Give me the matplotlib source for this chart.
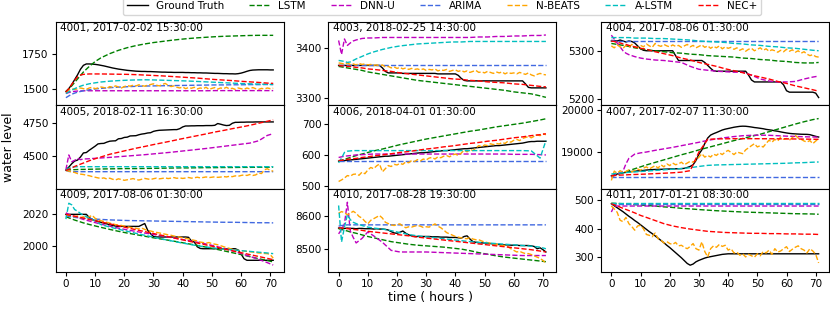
import matplotlib
matplotlib.use("Agg")
import matplotlib.pyplot as plt

# time axes (hours ahead)
HOURS = list(range(72))
COARSE = [0, 1, 2, 3, 4, 5, 6, 8, 10, 12, 15, 18, 21, 24, 27, 30, 33, 36, 39, 42,
          45, 48, 51, 54, 57, 60, 63, 66, 69, 71]

MODELS = ["Ground Truth", "LSTM", "DNN-U", "ARIMA", "N-BEATS", "A-LSTM", "NEC+"]
COLORS = ["black", "green", "m", "royalblue", "orange", "c", "r"]

# ---------------------------------------------------------------- 4001
S4001_GT = [1480, 1500, 1530, 1565, 1600, 1640, 1668, 1678, 1678, 1677, 1675,
            1672, 1668, 1664, 1659, 1654, 1649, 1645, 1641, 1638, 1635,
            1632, 1630, 1628, 1626, 1625, 1624, 1624, 1623, 1623, 1622,
            1621, 1620, 1619, 1619, 1618, 1618, 1617, 1617, 1617, 1617,
            1616, 1616, 1615, 1615, 1614, 1614, 1613, 1613, 1612, 1611,
            1610, 1610, 1609, 1608, 1608, 1607, 1607, 1606, 1608, 1612,
            1618, 1625, 1631, 1634, 1635, 1636, 1636, 1636, 1636, 1635, 1635]
S4001_LSTM = [1475, 1498, 1520, 1545, 1570, 1595, 1620, 1660, 1695, 1722, 1752, 1776,
              1795, 1810, 1822, 1832, 1840, 1848, 1855, 1861, 1866, 1870, 1874, 1877,
              1879, 1881, 1883, 1884, 1884, 1884]
S4001_DNNU = [1465, 1472, 1478, 1481, 1483, 1484, 1485, 1485, 1485, 1485, 1485, 1485,
              1485, 1485, 1485, 1485, 1485, 1485, 1485, 1485, 1485, 1485, 1486, 1486,
              1486, 1486, 1486, 1486, 1486, 1486]
S4001_ARIMA = [1435, 1448, 1460, 1468, 1475, 1480, 1485, 1492, 1498, 1502, 1507, 1511,
               1514, 1517, 1519, 1520, 1521, 1522, 1523, 1524, 1525, 1526, 1527, 1527,
               1528, 1528, 1529, 1529, 1530, 1530]
S4001_NBEATS = [1475, 1490, 1500, 1495, 1498, 1505, 1500, 1495, 1505, 1510, 1500,
                1505, 1512, 1508, 1503, 1515, 1510, 1520, 1512, 1505, 1515,
                1522, 1518, 1525, 1520, 1528, 1522, 1518, 1525, 1530, 1535,
                1525, 1520, 1530, 1538, 1525, 1515, 1520, 1510, 1505, 1512,
                1500, 1508, 1503, 1510, 1498, 1505, 1500, 1510, 1495, 1502,
                1508, 1497, 1505, 1500, 1510, 1498, 1503, 1495, 1505, 1500,
                1495, 1505, 1498, 1508, 1500, 1495, 1502, 1498, 1505, 1500, 1503]
S4001_ALSTM = [1465, 1478, 1490, 1500, 1510, 1518, 1525, 1535, 1542, 1548, 1554, 1558,
               1561, 1563, 1564, 1563, 1561, 1559, 1557, 1555, 1552, 1549, 1546, 1543,
               1540, 1537, 1535, 1533, 1531, 1530]
S4001_NEC = [1475, 1500, 1530, 1560, 1585, 1598, 1603, 1606, 1606, 1606, 1605, 1604,
             1603, 1601, 1598, 1595, 1592, 1588, 1584, 1580, 1576, 1571, 1566, 1562,
             1558, 1553, 1549, 1545, 1540, 1538]

# ---------------------------------------------------------------- 4003
S4003_GT = ([3365] * 15 + [3360, 3353, 3350]
            + [3350, 3350, 3350, 3350, 3349, 3349, 3349, 3349, 3349, 3349, 3349, 3349,
               3349, 3349, 3349, 3349, 3348, 3348, 3348, 3348, 3348, 3348, 3348]
            + [3345, 3339, 3335] + [3334] * 20 + [3328, 3321] + [3320] * 6)
S4003_LSTM = [3363, 3362, 3361, 3360, 3359, 3358, 3357, 3355, 3352, 3350, 3347, 3344,
              3341, 3338, 3335, 3333, 3331, 3329, 3327, 3325, 3323, 3321, 3319, 3317,
              3315, 3312, 3310, 3308, 3304, 3301]
S4003_DNNU = [3415, 3387, 3418, 3405, 3410, 3414, 3416, 3419, 3420, 3420, 3421, 3421,
              3421, 3421, 3421, 3421, 3421, 3421, 3421, 3421, 3421, 3422, 3422, 3423,
              3423, 3424, 3424, 3425, 3425, 3426]
S4003_ARIMA = [3366] * 30
S4003_NBEATS = [3370, 3369, 3368, 3370, 3367, 3368, 3366, 3369, 3367, 3368, 3366,
                3367, 3365, 3366, 3364, 3366, 3362, 3363, 3360, 3362, 3359,
                3361, 3358, 3360, 3357, 3359, 3357, 3358, 3356, 3358, 3355,
                3357, 3356, 3358, 3354, 3356, 3355, 3357, 3353, 3355, 3356,
                3353, 3355, 3352, 3354, 3351, 3353, 3355, 3351, 3352, 3350,
                3353, 3351, 3349, 3352, 3350, 3352, 3348, 3351, 3349, 3350,
                3348, 3351, 3349, 3347, 3350, 3346, 3344, 3347, 3349, 3347, 3346]
S4003_ALSTM = [3375, 3374, 3373, 3371, 3372, 3375, 3378, 3383, 3388, 3392, 3397, 3401,
               3404, 3406, 3408, 3409, 3410, 3411, 3412, 3412, 3413, 3413, 3413, 3413,
               3413, 3413, 3413, 3413, 3413, 3413]
S4003_NEC = [3365, 3364, 3364, 3363, 3363, 3362, 3361, 3360, 3358, 3357, 3355, 3353,
             3350, 3348, 3346, 3344, 3342, 3340, 3338, 3337, 3335, 3334, 3332, 3331,
             3330, 3328, 3327, 3325, 3323, 3322]

# ---------------------------------------------------------------- 4004
S4004_GT = [5320, 5321, 5320, 5322, 5320, 5318, 5320, 5319, 5316, 5310, 5304,
            5301, 5300, 5300, 5300, 5300, 5300, 5300, 5300, 5300, 5300,
            5300, 5290, 5280, 5280, 5280, 5280, 5280, 5280, 5280, 5280,
            5280, 5276, 5270, 5264, 5259, 5258, 5258, 5258, 5258, 5258,
            5258, 5258, 5258, 5258, 5258, 5258, 5250, 5240, 5236, 5236,
            5236, 5236, 5236, 5236, 5236, 5236, 5236, 5236, 5230, 5218,
            5215, 5215, 5215, 5215, 5215, 5215, 5215, 5215, 5215, 5213, 5204]
S4004_LSTM = [5315, 5314, 5313, 5312, 5311, 5310, 5309, 5306, 5304, 5302, 5300, 5298,
              5296, 5295, 5293, 5292, 5290, 5289, 5288, 5287, 5285, 5284, 5282, 5281,
              5279, 5278, 5276, 5275, 5275, 5276]
S4004_DNNU = [5332, 5324, 5316, 5308, 5300, 5295, 5292, 5288, 5285, 5283, 5281, 5280,
              5278, 5276, 5268, 5262, 5260, 5258, 5257, 5256, 5256, 5250, 5242, 5238,
              5236, 5236, 5237, 5242, 5246, 5248]
S4004_ARIMA = [5322, 5320] + [5319] * 28
S4004_NBEATS = [5310, 5306, 5312, 5308, 5305, 5311, 5307, 5313, 5309, 5306, 5311,
                5308, 5314, 5310, 5307, 5315, 5311, 5309, 5313, 5310, 5308,
                5312, 5309, 5311, 5307, 5310, 5313, 5308, 5311, 5306, 5309,
                5312, 5307, 5310, 5305, 5309, 5306, 5310, 5304, 5308, 5305,
                5307, 5303, 5306, 5301, 5304, 5299, 5303, 5305, 5300, 5303,
                5306, 5301, 5304, 5299, 5302, 5300, 5297, 5301, 5298, 5303,
                5299, 5302, 5297, 5300, 5295, 5298, 5293, 5290, 5292, 5288, 5287]
S4004_ALSTM = [5327, 5327, 5327, 5327, 5327, 5327, 5327, 5326, 5326, 5326, 5325, 5325,
               5324, 5323, 5322, 5320, 5319, 5318, 5317, 5315, 5314, 5312, 5311, 5309,
               5308, 5306, 5305, 5303, 5301, 5300]
S4004_NEC = [5320, 5319, 5317, 5316, 5314, 5313, 5311, 5308, 5305, 5303, 5298, 5294,
             5290, 5285, 5281, 5276, 5272, 5268, 5263, 5259, 5255, 5250, 5246, 5242,
             5237, 5233, 5228, 5224, 5220, 5217]

# ---------------------------------------------------------------- 4005
S4005_GT = [4398, 4420, 4445, 4465, 4472, 4495, 4525, 4528, 4545, 4560, 4575,
            4592, 4595, 4596, 4605, 4612, 4614, 4615, 4630, 4632, 4640,
            4642, 4651, 4652, 4653, 4660, 4665, 4668, 4673, 4675, 4685,
            4690, 4693, 4694, 4695, 4696, 4697, 4698, 4698, 4705, 4718,
            4725, 4725, 4726, 4726, 4727, 4727, 4727, 4728, 4728, 4728,
            4730, 4743, 4738, 4732, 4728, 4730, 4745, 4752, 4752, 4753,
            4753, 4754, 4754, 4754, 4755, 4755, 4755, 4755, 4755, 4755, 4755]
S4005_LSTM = [4398, 4399, 4400, 4401, 4402, 4403, 4403, 4404, 4405, 4406, 4407, 4408,
              4409, 4409, 4410, 4411, 4412, 4413, 4414, 4414, 4415, 4416, 4416, 4417,
              4417, 4418, 4418, 4419, 4419, 4420]
S4005_DNNU = [4400, 4510, 4460, 4470, 4485, 4475, 4480, 4482, 4485, 4488, 4492, 4497,
              4502, 4507, 4512, 4518, 4524, 4530, 4537, 4544, 4551, 4558, 4566, 4574,
              4582, 4590, 4598, 4615, 4655, 4668]
S4005_ARIMA = [4395, 4388] + [4386] * 28
S4005_NBEATS = [4395, 4390, 4385, 4380, 4372, 4368, 4365, 4360, 4356, 4350, 4345,
                4340, 4336, 4340, 4332, 4338, 4330, 4325, 4333, 4328, 4322,
                4326, 4330, 4335, 4328, 4324, 4330, 4336, 4332, 4328, 4334,
                4338, 4333, 4336, 4340, 4335, 4338, 4342, 4337, 4340, 4336,
                4339, 4343, 4338, 4341, 4345, 4340, 4343, 4347, 4342, 4345,
                4348, 4344, 4346, 4350, 4347, 4352, 4349, 4355, 4352, 4358,
                4362, 4358, 4365, 4358, 4362, 4376, 4372, 4400, 4408, 4395, 4390]
S4005_ALSTM = [4400, 4412, 4420, 4422] + [4423] * 26
S4005_NEC = [4395, 4404, 4413, 4425, 4433, 4442, 4450, 4467, 4482, 4495, 4515, 4530,
             4545, 4560, 4573, 4587, 4600, 4613, 4627, 4640, 4653, 4666, 4680, 4692,
             4705, 4717, 4730, 4745, 4760, 4770]

# ---------------------------------------------------------------- 4006
S4006_GT = [580, 581, 582, 583, 584, 585, 586, 587, 588, 589, 590,
            591, 592, 593, 594, 595, 596, 596, 597, 598, 599,
            600, 601, 602, 603, 604, 605, 606, 607, 607, 608,
            609, 610, 611, 612, 613, 614, 614, 615, 616, 617,
            618, 619, 620, 620, 621, 622, 623, 624, 625, 626,
            627, 628, 629, 630, 630, 631, 632, 633, 634, 635,
            636, 637, 638, 640, 642, 643, 643, 644, 644, 644, 644]
S4006_LSTM = [580, 583, 586, 589, 592, 595, 598, 603, 608, 613, 619, 626, 633, 639, 645,
              651, 656, 661, 666, 671, 676, 680, 685, 690, 694, 698, 702, 707, 712, 716]
S4006_DNNU = [592, 594, 596, 597, 598, 599, 600, 601, 602, 603, 603, 603, 603, 603, 603,
              603, 603, 603, 603, 603, 603, 603, 603, 603, 603, 602, 602, 602, 601, 600]
S4006_ARIMA = [580] * 30
S4006_NBEATS = [515, 520, 526, 534, 532, 538, 539, 535, 545, 540, 552,
                560, 556, 565, 571, 546, 556, 566, 563, 570, 568,
                573, 570, 578, 575, 582, 579, 585, 581, 587, 584,
                590, 592, 587, 594, 591, 596, 598, 594, 600, 603,
                598, 606, 616, 610, 618, 614, 622, 630, 626, 632,
                630, 636, 633, 637, 635, 640, 637, 644, 641, 647,
                650, 646, 653, 656, 659, 655, 660, 664, 662, 668, 665]
S4006_ALSTM = [575, 590, 608, 612, 613, 614, 614, 614, 614, 614, 614, 614, 614, 614, 614,
               614, 614, 614, 614, 614, 614, 614, 614, 614, 614, 614, 614, 613, 590, 646]
S4006_NEC = [582, 583, 584, 586, 587, 588, 589, 592, 594, 597, 600, 604, 608, 611, 615,
             619, 622, 626, 629, 633, 637, 640, 644, 647, 651, 655, 658, 662, 665, 668]

# ---------------------------------------------------------------- 4007
S4007_GT = [18440, 18460, 18480, 18500, 18510, 18520, 18530, 18540, 18545, 18555, 18560,
            18565, 18575, 18580, 18585, 18588, 18590, 18592, 18595, 18597, 18600,
            18602, 18604, 18606, 18608, 18615, 18635, 18660, 18700, 18800, 18950,
            19050, 19200, 19330, 19400, 19433, 19460, 19490, 19520, 19540, 19555,
            19570, 19585, 19596, 19606, 19610, 19608, 19600, 19590, 19578, 19570,
            19560, 19550, 19535, 19525, 19515, 19500, 19490, 19475, 19462, 19450,
            19440, 19433, 19428, 19424, 19420, 19418, 19417, 19410, 19390, 19370, 19354]
S4007_LSTM = [18420, 18444, 18468, 18491, 18514, 18537, 18560, 18605, 18650, 18695,
              18755, 18815, 18875, 18935, 18990, 19050, 19105, 19160, 19215, 19270,
              19320, 19370, 19420, 19480, 19540, 19600, 19660, 19715, 19765, 19790]
S4007_DNNU = [18420, 18450, 18480, 18510, 18550, 18720, 18850, 18950, 18980, 19000,
              19040, 19075, 19110, 19150, 19190, 19230, 19275, 19310, 19340, 19365,
              19385, 19395, 19398, 19395, 19385, 19375, 19368, 19360, 19355, 19352]
S4007_ARIMA = [18400] * 30
S4007_NBEATS = [18330, 18550, 18500, 18560, 18520, 18540, 18580, 18530, 18560, 18600, 18570,
                18620, 18650, 18600, 18640, 18680, 18620, 18700, 18650, 18720, 18680,
                18740, 18700, 18720, 18760, 18700, 18740, 18780, 18760, 18810, 18880,
                18960, 18880, 18920, 18882, 18950, 18920, 18980, 18940, 19000, 19039,
                18990, 18940, 19000, 18980, 18961, 19050, 19100, 19150, 19197, 19120,
                19150, 19118, 19200, 19280, 19230, 19300, 19260, 19354, 19300, 19320,
                19280, 19340, 19394, 19330, 19300, 19260, 19236, 19270, 19197, 19260, 19315]
S4007_ALSTM = [18480, 18490, 18500, 18505, 18510, 18515, 18520, 18530, 18540, 18550,
               18565, 18580, 18595, 18610, 18630, 18660, 18685, 18695, 18700, 18705,
               18710, 18715, 18720, 18725, 18730, 18735, 18745, 18750, 18760, 18765]
S4007_NEC = [18440, 18445, 18450, 18455, 18458, 18460, 18465, 18470, 18475, 18480,
             18490, 18500, 18510, 18525, 18560, 19000, 19300, 19310, 19312, 19315,
             19315, 19315, 19314, 19313, 19312, 19310, 19308, 19305, 19302, 19300]

# ---------------------------------------------------------------- 4009
S4009_GT = ([2020] * 8
            + [2018, 2016.8, 2016, 2015.5, 2015, 2014.5, 2014, 2013.5, 2013, 2012.6, 2012.4]
            + [2012.4] * 7
            + [2013.3, 2014.2, 2010, 2007.8, 2006, 2005.7]
            + [2005.7] * 10
            + [2005.5, 2003.2, 2002.5, 1999.5, 1998.5]
            + [1998.3] * 12
            + [1997.5, 1995, 1992, 1991]
            + [1991] * 9)
S4009_LSTM = [2018.5, 2017.8, 2017.1, 2016.4, 2015.8, 2015.2, 2014.6, 2013.6, 2012.7,
              2011.8, 2010.5, 2009.3, 2008.2, 2007.2, 2006.2, 2005.2, 2004.3, 2003.4,
              2002.4, 2001.4, 2000.4, 1999.3, 1998.2, 1997, 1995.8, 1994.6, 1993.3,
              1992, 1990.8, 1990]
S4009_DNNU = [2021, 2020, 2019.3, 2018.6, 2018, 2017.4, 2016.8, 2015.8, 2014.8, 2013.8,
              2012.5, 2011.3, 2010.2, 2009.2, 2008.2, 2007.3, 2006.4, 2005.4, 2004.4,
              2003.4, 2002.4, 2001.3, 2000, 1998.6, 1997, 1995.3, 1993.5, 1991.6,
              1989.5, 1988]
S4009_ARIMA = [2019, 2018.7, 2018.4, 2018.1, 2017.9, 2017.7, 2017.5, 2017.2, 2017,
               2016.8, 2016.5, 2016.3, 2016.1, 2016, 2015.9, 2015.8, 2015.7, 2015.6,
               2015.5, 2015.4, 2015.3, 2015.2, 2015.1, 2015, 2015, 2014.9, 2014.8,
               2014.7, 2014.7, 2014.6]
S4009_NBEATS = [2019, 2019.5, 2019, 2018.5, 2019, 2018, 2018.5, 2017.5, 2018.5, 2019.4, 2017.5,
                2016.5, 2016, 2015.5, 2015, 2014.5, 2014, 2013.5, 2013.2, 2013, 2012.6,
                2012.2, 2011.8, 2011.5, 2011.2, 2010.8, 2011.3, 2010.5, 2009.8, 2009.5, 2009,
                2008.6, 2008.3, 2007.8, 2007.5, 2007.1, 2006.8, 2006.3, 2006, 2005.6, 2005.2,
                2004.8, 2004.5, 2004, 2003.6, 2003.2, 2002.5, 2002.2, 2001.8, 2002.2, 2001.5,
                2001.2, 2000.8, 2000.2, 1999.6, 1999, 1998.5, 1998, 1997.5, 1997.2, 1997,
                1996.8, 1996.6, 1996.4, 1996.2, 1995.9, 1995.6, 1995.5, 1995.3, 1995.2,
                1994.5, 1992.4]
S4009_ALSTM = [2017, 2027, 2026, 2023, 2022, 2020.5, 2019.5, 2017.5, 2016, 2013.5, 2012,
               2010.6, 2009.3, 2008, 2006.8, 2005.6, 2004.4, 2003.3, 2002.2, 2001.2,
               2000.2, 1999.4, 1998.7, 1998.1, 1997.6, 1997.1, 1996.6, 1996.1, 1995.6,
               1995.2]
S4009_NEC = [2020, 2019.6, 2019.2, 2018.8, 2018.4, 2018, 2017.6, 2016.8, 2016, 2015.2,
             2014, 2012.8, 2011.5, 2010.3, 2009.1, 2007.9, 2006.7, 2005.5, 2004.3,
             2003.1, 2001.9, 2000.7, 1999.5, 1998.2, 1997, 1995.8, 1994.6, 1993.4,
             1992.2, 1991.4]

# ---------------------------------------------------------------- 4010
S4010_GT = [8564, 8564, 8563, 8564, 8563, 8563, 8562, 8563, 8563, 8562, 8562,
            8562, 8561, 8562, 8561, 8561, 8560, 8558, 8553, 8549, 8548,
            8551, 8555, 8548, 8543, 8540, 8538, 8538, 8538, 8538, 8538,
            8538, 8537, 8537, 8537, 8536, 8536, 8536, 8535, 8535, 8535,
            8534, 8533, 8538, 8540, 8530, 8522, 8520, 8519, 8518, 8518,
            8517, 8516, 8515, 8514, 8513, 8512, 8512, 8512, 8511, 8511,
            8511, 8510, 8510, 8510, 8510, 8509, 8507, 8500, 8503, 8497, 8490]
S4010_LSTM = [8562, 8560, 8557, 8555, 8552, 8550, 8548, 8543, 8538, 8534, 8528, 8522,
              8518, 8514, 8511, 8509, 8507, 8505, 8502, 8499, 8494, 8488, 8483, 8478,
              8474, 8471, 8468, 8465, 8462, 8460]
S4010_DNNU = [8546, 8560, 8577, 8644, 8555, 8535, 8518, 8532, 8552, 8540, 8520, 8495,
              8490, 8490, 8490, 8490, 8489, 8488, 8487, 8486, 8485, 8484, 8483, 8482,
              8481, 8480, 8479, 8479, 8479, 8479]
S4010_ARIMA = [8570, 8572, 8573] + [8574] * 27
S4010_NBEATS = [8610, 8615, 8612, 8605, 8610, 8616, 8610, 8600, 8595, 8585, 8577,
                8588, 8593, 8598, 8603, 8595, 8582, 8578, 8574, 8572, 8575,
                8577, 8570, 8565, 8568, 8567, 8570, 8572, 8570, 8566, 8568,
                8567, 8572, 8577, 8570, 8565, 8558, 8550, 8546, 8542, 8538,
                8536, 8534, 8532, 8531, 8535, 8530, 8528, 8528, 8524, 8521,
                8519, 8517, 8515, 8514, 8512, 8510, 8510, 8506, 8500, 8495,
                8490, 8492, 8488, 8485, 8485, 8482, 8478, 8474, 8470, 8464, 8455]
S4010_ALSTM = [8634, 8521, 8567, 8605, 8590, 8582, 8578, 8572, 8567, 8564, 8561, 8556,
               8550, 8544, 8540, 8537, 8534, 8531, 8528, 8525, 8522, 8520, 8518, 8516,
               8514, 8512, 8510, 8508, 8505, 8500]
S4010_NEC = [8565, 8564, 8563, 8562, 8561, 8560, 8559, 8557, 8554, 8552, 8549, 8546,
             8543, 8540, 8536, 8533, 8530, 8527, 8524, 8521, 8518, 8515, 8512, 8509,
             8506, 8503, 8500, 8497, 8493, 8490]

# ---------------------------------------------------------------- 4011
S4011_GT = ([488, 481, 474, 467, 460, 452, 444, 437, 429, 422, 414,
             406, 398, 390, 383, 375, 367, 359, 351, 342, 334,
             325, 316, 307, 298, 288, 278, 272, 276, 284, 289,
             293, 297, 300, 302, 304, 306, 308, 310, 311, 312]
            + [312] * 31)
S4011_LSTM = [490, 489.5, 489, 488.5, 488, 487, 486.5, 485, 483.5, 482, 480, 477, 475,
              472, 470, 467.5, 465.5, 463.5, 462, 460.5, 459, 458, 457, 456, 455, 454,
              453, 452.5, 452, 451]
S4011_DNNU = [459] + [480] * 29
S4011_ARIMA = [487] * 30
S4011_NBEATS = [480, 470, 458, 430, 425, 440, 418, 408, 395, 410, 412,
                400, 380, 377, 372, 385, 365, 360, 350, 355, 348,
                345, 352, 340, 342, 335, 330, 338, 348, 330, 325,
                354, 320, 301, 330, 340, 335, 345, 338, 342, 325,
                330, 315, 318, 307, 312, 301, 310, 305, 300, 312,
                305, 320, 315, 325, 310, 330, 318, 322, 330, 337,
                320, 328, 335, 340, 330, 325, 315, 330, 322, 310, 280]
S4011_ALSTM = [491] * 30
S4011_NEC = [488, 484, 480, 476, 472, 468, 464, 456, 447, 440, 429, 418, 410, 404, 399,
             395, 391, 389, 387, 386, 385, 384, 384, 383, 383, 382, 382, 381, 381, 380]

TITLES = ["4001, 2017-02-02 15:30:00", "4003, 2018-02-25 14:30:00", "4004, 2017-08-06 01:30:00",
          "4005, 2018-02-11 16:30:00", "4006, 2018-04-01 01:30:00", "4007, 2017-02-07 11:30:00",
          "4009, 2017-08-06 01:30:00", "4010, 2017-08-28 19:30:00", "4011, 2017-01-21 08:30:00"]
YLIMS = [(1380, 1980), (3285, 3452), (5188, 5359),
         (4260, 4878), (492, 759), (18135, 20102),
         (1983.6, 2036.2), (8428, 8686), (248, 541)]
YTICKS = [[1500, 1750], [3300, 3400], [5200, 5300],
          [4500, 4750], [500, 600, 700], [19000, 20000],
          [2000, 2020], [8500, 8600], [300, 400, 500]]

PANELS = [
    [S4001_GT, S4001_LSTM, S4001_DNNU, S4001_ARIMA, S4001_NBEATS, S4001_ALSTM, S4001_NEC],
    [S4003_GT, S4003_LSTM, S4003_DNNU, S4003_ARIMA, S4003_NBEATS, S4003_ALSTM, S4003_NEC],
    [S4004_GT, S4004_LSTM, S4004_DNNU, S4004_ARIMA, S4004_NBEATS, S4004_ALSTM, S4004_NEC],
    [S4005_GT, S4005_LSTM, S4005_DNNU, S4005_ARIMA, S4005_NBEATS, S4005_ALSTM, S4005_NEC],
    [S4006_GT, S4006_LSTM, S4006_DNNU, S4006_ARIMA, S4006_NBEATS, S4006_ALSTM, S4006_NEC],
    [S4007_GT, S4007_LSTM, S4007_DNNU, S4007_ARIMA, S4007_NBEATS, S4007_ALSTM, S4007_NEC],
    [S4009_GT, S4009_LSTM, S4009_DNNU, S4009_ARIMA, S4009_NBEATS, S4009_ALSTM, S4009_NEC],
    [S4010_GT, S4010_LSTM, S4010_DNNU, S4010_ARIMA, S4010_NBEATS, S4010_ALSTM, S4010_NEC],
    [S4011_GT, S4011_LSTM, S4011_DNNU, S4011_ARIMA, S4011_NBEATS, S4011_ALSTM, S4011_NEC],
]

FS = 7.5
plt.rcParams["font.size"] = FS

fig = plt.figure(figsize=(8.3, 3.09), dpi=100)
gs = fig.add_gridspec(3, 3, left=0.0669, right=0.9988, top=0.9288, bottom=0.1197,
                      wspace=0.196, hspace=0.0)

handles = []
for i, series in enumerate(PANELS):
    r, c = divmod(i, 3)
    ax = fig.add_subplot(gs[r, c])
    for k, ys in enumerate(series):
        xs = HOURS if len(ys) == len(HOURS) else COARSE
        ls = "-" if k == 0 else "--"
        ln, = ax.plot(xs, ys, ls, color=COLORS[k], lw=1.0, label=MODELS[k])
        if i == 0:
            handles.append(ln)
    ax.set_xlim(-3.55, 74.55)
    ax.set_ylim(*YLIMS[i])
    ax.set_yticks(YTICKS[i])
    ax.set_xticks(range(0, 71, 10))
    ax.tick_params(labelsize=FS, length=3, width=0.8, pad=2)
    if r < 2:
        ax.tick_params(axis="x", bottom=False, labelbottom=False)
    ax.text(0.02, 0.985, TITLES[i], transform=ax.transAxes, ha="left", va="top",
            fontsize=FS)

fig.legend(handles, MODELS, loc="lower center", bbox_to_anchor=(442 / 830, 1 - 15 / 309),
           borderaxespad=0.0, ncol=7, fontsize=FS, frameon=True, handlelength=2.0,
           columnspacing=2.4, borderpad=0.4)
fig.text(430 / 830, 1 - 297 / 309, "time ( hours )", ha="center", va="center", fontsize=9)
fig.text(9 / 830, 1 - 147.5 / 309, "water level", ha="center", va="center",
         rotation=90, fontsize=9)

fig.savefig("out.png", dpi=100)
plt.close(fig)
